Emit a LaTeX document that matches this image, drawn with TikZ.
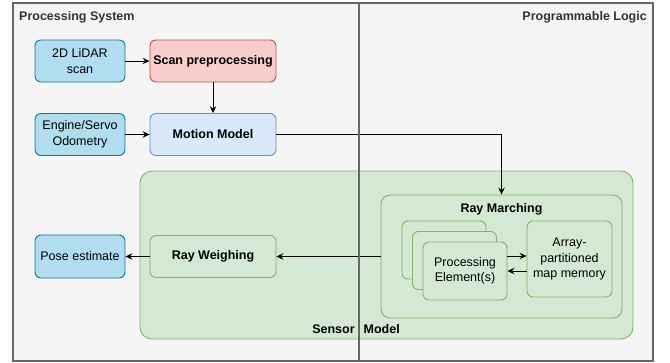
\documentclass[tikz,border=0pt]{standalone}
\usepackage{fontspec}
\setmainfont{Liberation Sans}
\usetikzlibrary{arrows.meta,calc}
\definecolor{frameFill}{HTML}{F5F5F5}
\definecolor{frameLine}{HTML}{666666}
\definecolor{blueFill}{HTML}{B1DDF0}
\definecolor{blueLine}{HTML}{10739E}
\definecolor{redFill}{HTML}{F8CECC}
\definecolor{redLine}{HTML}{B85450}
\definecolor{lblueFill}{HTML}{DAE8FC}
\definecolor{lblueLine}{HTML}{6C8EBF}
\definecolor{greenFill}{HTML}{D5E8D4}
\definecolor{greenLine}{HTML}{82B366}
\definecolor{labelText}{HTML}{333333}
\tikzset{
  box/.style={draw, rounded corners=6pt, line width=0.9pt, align=center,
    font=\fontsize{12.5}{15.5}\selectfont, text=black, inner sep=1pt},
  io/.style={box, fill=blueFill, draw=blueLine, minimum width=90pt, minimum height=42pt},
  wide/.style={box, minimum width=126pt, minimum height=42pt, font=\fontsize{12.5}{15.5}\selectfont\bfseries},
  greenbox/.style={box, fill=greenFill, draw=greenLine},
  flow/.style={draw=black, line width=1pt, -{Stealth[length=7pt,width=6.5pt,inset=2.5pt]}},
  section/.style={font=\fontsize{12.5}{15.5}\selectfont\bfseries, text=labelText, inner sep=0pt},
}
\begin{document}
\begin{tikzpicture}[x=1pt,y=-1pt]
\useasboundingbox[fill=white] (0,0) rectangle (670,362);

% two processing domains
\draw[fill=frameFill, draw=frameLine, line width=1.6pt] (13,3) rectangle (359,361);
\draw[fill=frameFill, draw=frameLine, line width=1.6pt] (359,3) rectangle (653,361);
\node[section, anchor=west] (ps) at (19,17) {Processing System};
\node[section, anchor=east] (pl) at (647,17) {Programmable Logic};

% inputs and preprocessing
\node[io] (lidar) at (80,61) {2D LiDAR\\scan};
\node[wide, fill=redFill, draw=redLine] (scan) at (213,61) {Scan preprocessing};
\node[io] (odom) at (80,134.5) {Engine/Servo\\Odometry};
\node[wide, fill=lblueFill, draw=lblueLine] (motion) at (213,134.5) {Motion Model};

% sensor model container
\draw[fill=greenFill, draw=greenLine, line width=0.9pt, rounded corners=12pt] (140,171) rectangle (633,339);
\node[section, text=black] (sm) at (356,329) {Sensor\hspace{9pt}Model};

% ray marching block
\node[greenbox, minimum width=241pt, minimum height=123pt, rounded corners=9pt] (march) at (501.5,256.5) {};
\node[section, text=black] (marchlbl) at (501.5,209) {Ray Marching};
\node[greenbox, minimum width=84pt, minimum height=58pt] (peA) at (444,250) {};
\node[greenbox, minimum width=84pt, minimum height=58pt] (peB) at (454.5,260.5) {};
\node[greenbox, minimum width=84pt, minimum height=58pt] (pe) at (465,271) {Processing\\Element(s)};
\node[greenbox, minimum width=85pt, minimum height=76pt] (mem) at (569.5,259) {Array-\\partitioned\\map memory};

% outputs
\node[wide, fill=greenFill, draw=greenLine] (weigh) at (213,256.5) {Ray Weighing};
\node[io, minimum height=43pt] (pose) at (80,256.5) {Pose estimate};

% connectors
\draw[flow] (lidar) -- (scan);
\draw[flow] (scan) -- (motion);
\draw[flow] (odom) -- (motion);
\draw[flow] (motion.east) -| (march.north);
\draw[flow] (march.west) -- (weigh.east);
\draw[flow] (weigh.west) -- (pose.east);
\draw[flow] ([yshift=15pt]pe.east) -- ([yshift=15pt]pe.east -| mem.west);
\draw[flow] (pe.east -| mem.west) -- (pe.east);

% domain boundary drawn over everything
\draw[draw=frameLine, line width=1.6pt] (359,3) -- (359,361);
\end{tikzpicture}
\end{document}
